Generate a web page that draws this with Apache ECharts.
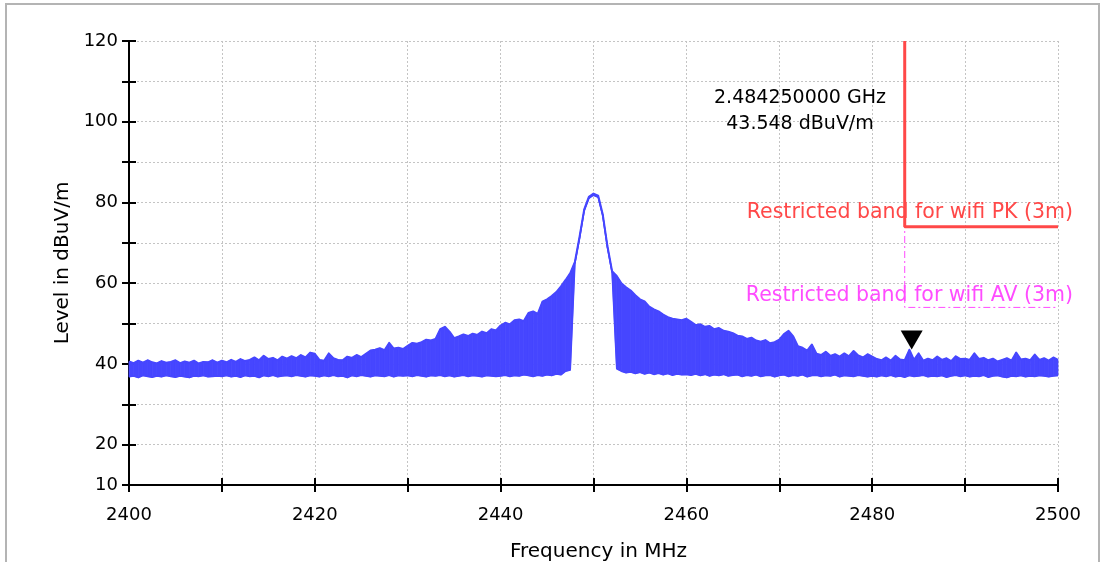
<!DOCTYPE html>
<html>
<head>
<meta charset="utf-8">
<script src="https://cdn.jsdelivr.net/npm/echarts@6/dist/echarts.min.js"></script>
<style>
html,body{margin:0;padding:0;background:#ffffff;}
#chart{width:1102px;height:562px;}
</style>
</head>
<body>
<div id="chart"></div>
<script>
// Sweep grid (MHz)
const sweepStartMHz = 2400;
const sweepStepMHz = 0.5;
const sweepEndMHz = 2500;

// Peak-detector trace: max (hi) and min (lo) level in each 0.5 MHz bin
const traceHi = [
  40.6, 40.2, 40.8, 40.3, 40.9, 40.4, 40.1, 40.7, 40.3, 40.5, 40.9, 40.2, 40.6, 40.3, 40.8, 40.1, 40.5, 40.4, 40.9, 40.3,
  40.8, 40.4, 41.0, 40.5, 41.2, 40.7, 41.0, 41.6, 40.9, 42.0, 41.2, 41.5, 40.9, 41.8, 41.3, 41.9, 41.4, 42.2, 41.6, 42.8,
  42.5, 41.0, 40.8, 42.6, 41.4, 41.0, 40.9, 41.8, 41.5, 42.2, 41.7, 42.5, 43.3, 43.5, 43.9, 43.4, 45.2, 43.8, 44.0, 43.7,
  44.5, 45.2, 45.0, 45.4, 46.0, 45.8, 46.2, 48.6, 49.2, 48.0, 46.4, 46.8, 47.3, 46.9, 47.5, 47.2, 48.0, 47.6, 48.6, 48.3,
  49.5, 50.2, 49.8, 50.8, 51.0, 50.6, 52.6, 53.0, 52.4, 55.4, 56.0, 56.8, 57.8, 59.2, 60.8, 62.5, 65.3, 71.5, 78.3, 81.4,
  82.2, 81.7, 77.0, 69.2, 63.0, 61.8, 60.0, 59.0, 58.2, 57.0, 56.0, 55.5, 54.2, 53.5, 53.0, 52.2, 51.6, 51.2, 51.0, 50.8,
  51.2, 50.4, 49.6, 49.8, 49.2, 49.4, 48.6, 48.9, 48.2, 48.0, 47.6, 47.0, 46.8, 46.2, 46.5, 45.8, 45.5, 45.9, 45.1, 45.4,
  46.0, 47.4, 48.2, 46.8, 44.4, 44.0, 43.3, 44.8, 42.5, 42.2, 43.0, 42.0, 42.4, 41.8, 42.6, 41.9, 43.2, 42.1, 41.6, 42.4,
  41.8, 41.2, 40.9, 41.6, 40.8, 42.0, 41.1, 40.9, 43.5, 41.0, 42.6, 40.8, 41.3, 40.9, 41.8, 41.0, 41.4, 40.7, 41.9, 41.2,
  41.3, 41.0, 42.6, 41.2, 41.5, 40.9, 41.3, 40.6, 41.0, 41.4, 40.8, 42.8, 41.1, 41.3, 40.9, 42.3, 41.0, 41.4, 40.8, 41.6, 41.0
];
const traceLo = [
  36.8, 37.0, 36.6, 37.1, 36.9, 36.7, 37.0, 36.8, 37.1, 36.9, 36.7, 37.0, 36.8, 36.6, 37.0, 36.9, 37.1, 36.8, 36.9, 37.0,
  36.9, 37.1, 36.8, 37.0, 36.7, 37.1, 36.9, 37.0, 36.6, 37.1, 36.9, 37.2, 36.8, 37.0, 37.1, 36.9, 37.2, 37.0, 36.8, 37.1,
  37.0, 36.8, 37.1, 36.9, 37.2, 36.9, 37.0, 36.6, 37.1, 36.9, 37.2, 37.0, 36.8, 37.1, 37.0, 36.9, 37.2, 36.8, 37.1, 37.0,
  37.1, 36.9, 37.2, 37.0, 36.8, 37.1, 37.0, 37.2, 36.9, 37.1, 36.8, 37.0, 37.2, 36.9, 37.1, 37.0, 36.8, 37.1, 37.0, 36.9,
  37.0, 37.2, 36.9, 37.1, 37.0, 37.3, 37.1, 36.9, 37.2, 37.0, 37.3, 37.1, 37.5, 37.3, 38.2, 38.5, 64.9, 71.1, 77.9, 81.0,
  81.8, 81.3, 76.6, 68.8, 62.6, 38.8, 38.2, 37.8, 38.0, 37.6, 37.9, 37.5, 37.8, 37.4, 37.7, 37.3, 37.6, 37.2, 37.5, 37.3,
  37.4, 37.2, 37.5, 37.1, 37.4, 37.0, 37.3, 37.1, 37.4, 37.0, 37.2, 37.3, 36.9, 37.2, 37.0, 37.3, 36.9, 37.1, 37.2, 36.8,
  37.1, 37.3, 36.9, 37.2, 37.0, 37.3, 36.8, 37.1, 37.2, 36.9, 37.1, 37.0, 37.3, 36.8, 37.1, 37.0, 36.9, 37.2, 37.0, 36.8,
  37.0, 36.8, 37.1, 36.9, 37.2, 36.8, 37.0, 36.7, 37.1, 36.9, 37.0, 37.2, 36.8, 37.0, 36.9, 37.1, 36.7, 37.0, 37.2, 36.9,
  37.1, 36.8, 37.0, 36.9, 37.2, 36.7, 37.0, 37.1, 36.8, 36.6, 37.0, 36.9, 37.1, 36.8, 37.0, 36.9, 37.1, 37.0, 36.8, 37.0, 37.1
];

// Axis tick labels
const xTickLabels = [2400, 2420, 2440, 2460, 2480, 2500];
const yTickLabels = [10, 20, 40, 60, 80, 100, 120];

// Limits
const bandEdgeMHz = 2483.5;
const pkLimit = 74;
const avLimit = 54;
const pkLimitName = 'Restricted band for wifi PK (3m)';
const avLimitName = 'Restricted band for wifi AV (3m)';

// Marker
const markerFreqMHz = 2484.25;
const markerLevel = 43.548;

// Build series data from the arrays
const freqOf = i => sweepStartMHz + i * sweepStepMHz;
const loLine = traceLo.map((v, i) => [freqOf(i), v]);
const hiLine = traceHi.map((v, i) => [freqOf(i), v]);
// one band segment per pair of neighbouring bins: [f0, hi0, lo0, f1, hi1, lo1]
const bandSegs = [];
for (let i = 0; i + 1 < traceHi.length; i++) {
  bandSegs.push([freqOf(i), traceHi[i], traceLo[i], freqOf(i + 1), traceHi[i + 1], traceLo[i + 1]]);
}

const FONT = 'DejaVu Sans';
const TRACE = '#4646ff';
const chart = echarts.init(document.getElementById('chart'), null, {renderer: 'canvas'});
const gridLine = {show: true, lineStyle: {color: '#c4c4c4', width: 1, type: [2, 2]}};

chart.setOption({
  animation: false,
  backgroundColor: '#ffffff',
  grid: {left: 129, right: 44, top: 41, bottom: 77, containLabel: false, outerBoundsMode: 'none'},
  xAxis: [
    {
      type: 'value', min: 2400, max: 2500, interval: 10, position: 'bottom',
      name: 'Frequency in MHz', nameLocation: 'middle', nameGap: 57,
      nameTextStyle: {color: '#000', fontFamily: FONT, fontSize: 20, padding: [0, 0, 0, 10]},
      axisLine: {show: true, onZero: false, lineStyle: {color: '#000', width: 2}},
      axisTick: {show: true, length: 7, lineStyle: {color: '#000', width: 2}},
      axisLabel: {margin: 21, color: '#000', fontFamily: FONT, fontSize: 18,
        formatter: v => xTickLabels.indexOf(Math.round(v)) >= 0 ? String(Math.round(v)) : ''},
      splitLine: gridLine
    },
    {
      type: 'value', min: 2400, max: 2500, interval: 10, position: 'bottom',
      axisLine: {show: false},
      axisTick: {show: true, inside: true, length: 7, lineStyle: {color: '#000', width: 2}},
      axisLabel: {show: false}, splitLine: {show: false}
    }
  ],
  yAxis: [
    {
      type: 'value', min: 10, max: 120, interval: 10, position: 'left',
      name: 'Level in dBuV/m', nameLocation: 'middle', nameGap: 56, nameRotate: 90,
      nameTextStyle: {color: '#000', fontFamily: FONT, fontSize: 20},
      axisLine: {show: true, onZero: false, lineStyle: {color: '#000', width: 2}},
      axisTick: {show: true, length: 7, lineStyle: {color: '#000', width: 2}},
      axisLabel: {margin: 11, color: '#000', fontFamily: FONT, fontSize: 18,
        formatter: v => yTickLabels.indexOf(Math.round(v)) >= 0 ? String(Math.round(v)) : ''},
      splitLine: gridLine
    },
    {
      type: 'value', min: 10, max: 120, interval: 10, position: 'left',
      axisLine: {show: false},
      axisTick: {show: true, inside: true, length: 7, lineStyle: {color: '#000', width: 2}},
      axisLabel: {show: false}, splitLine: {show: false}
    }
  ],
  series: [
    {
      name: 'Level band', type: 'custom', xAxisIndex: 0, yAxisIndex: 0, z: 2, silent: true,
      data: bandSegs,
      dimensions: ['f0', 'hi0', 'lo0', 'f1', 'hi1', 'lo1'],
      encode: {x: [0, 3], y: [1, 2, 4, 5]},
      renderItem: (params, api) => {
        const a = api.coord([api.value(0), api.value(1)]);
        const b = api.coord([api.value(3), api.value(4)]);
        const c = api.coord([api.value(3), api.value(5)]);
        const d = api.coord([api.value(0), api.value(2)]);
        return {type: 'polygon', shape: {points: [a, b, c, d]},
          style: {fill: TRACE, stroke: TRACE, lineWidth: 0.8}};
      }
    },
    {
      name: 'Level (min)', type: 'line', data: loLine,
      showSymbol: false, symbol: 'none', z: 3,
      lineStyle: {color: TRACE, width: 1.5, join: 'round'}
    },
    {
      name: 'Level', type: 'line', data: hiLine,
      showSymbol: false, symbol: 'none', z: 3,
      lineStyle: {color: TRACE, width: 2, join: 'round'},
      markPoint: {
        symbol: 'triangle', symbolSize: [22, 19], symbolRotate: 180, symbolOffset: [0, '-50%'],
        itemStyle: {color: '#000000'}, label: {show: false},
        data: [{coord: [markerFreqMHz, markerLevel]}]
      }
    },
    {
      name: avLimitName, type: 'line', z: 4,
      data: [[bandEdgeMHz, 120], [bandEdgeMHz, avLimit], [sweepEndMHz, avLimit]],
      showSymbol: false, symbol: 'none',
      lineStyle: {color: '#ff4cff', width: 1, type: [7, 3, 2, 3]}
    },
    {
      name: pkLimitName, type: 'line', z: 5,
      data: [[bandEdgeMHz, 120], [bandEdgeMHz, pkLimit], [sweepEndMHz, pkLimit]],
      showSymbol: false, symbol: 'none',
      lineStyle: {color: '#ff4848', width: 3}
    }
  ],
  graphic: [
    {type: 'rect', z: 0, silent: true, shape: {x: 6, y: 4, width: 1093, height: 600},
      style: {fill: 'none', stroke: '#b4b4b4', lineWidth: 2}},
    {type: 'text', z: 10, x: 800, y: 98,
      style: {text: (markerFreqMHz / 1000).toFixed(9) + ' GHz', fill: '#000', font: '19px "DejaVu Sans"', align: 'center', verticalAlign: 'middle'}},
    {type: 'text', z: 10, x: 800, y: 124,
      style: {text: markerLevel.toFixed(3) + ' dBuV/m', fill: '#000', font: '19px "DejaVu Sans"', align: 'center', verticalAlign: 'middle'}},
    {type: 'text', z: 10, x: 1073, y: 213,
      style: {text: pkLimitName, fill: '#ff4848', font: '20.5px "DejaVu Sans"', align: 'right', verticalAlign: 'middle'}},
    {type: 'text', z: 10, x: 1073, y: 296,
      style: {text: avLimitName, fill: '#ff4cff', font: '20.5px "DejaVu Sans"', align: 'right', verticalAlign: 'middle'}}
  ]
});
</script>
</body>
</html>
